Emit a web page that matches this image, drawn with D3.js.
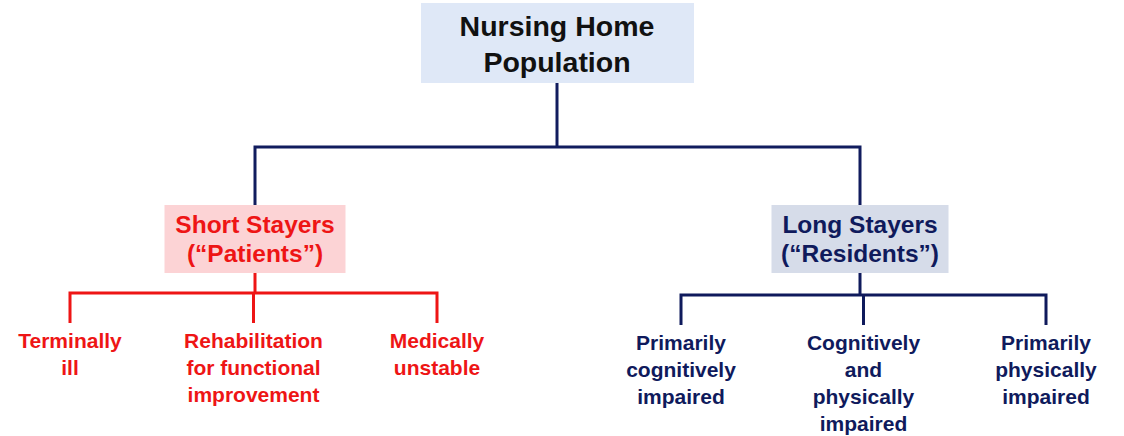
<!DOCTYPE html>
<html>
<head>
<meta charset="utf-8">
<script src="https://cdn.jsdelivr.net/npm/d3@7"></script>
<style>
  body { margin: 0; background: #fff; }
  svg { display: block; font-family: Arial, "Liberation Sans", sans-serif; font-weight: bold; }
</style>
</head>
<body>
<svg id="chart"></svg>
<script>
// chart content
const rootLabel = ["Nursing Home", "Population"];
const branchLabels = [["Short Stayers", "(“Patients”)"], ["Long Stayers", "(“Residents”)"]];
const shortLeaves = [["Terminally", "ill"], ["Rehabilitation", "for functional", "improvement"], ["Medically", "unstable"]];
const longLeaves = [["Primarily", "cognitively", "impaired"], ["Cognitively", "and", "physically", "impaired"], ["Primarily", "physically", "impaired"]];

const width = 1124, height = 436;
const svg = d3.select("#chart").attr("width", width).attr("height", height);

const navy = "#111c5e", red = "#ee1515";
const branchColor = [red, "#0f1a5c"];
const branchFill = ["#fcd3d5", "#d6dce9"];

// horizontal positions
const xBranch = d3.scalePoint().domain(d3.range(branchLabels.length)).range([255, 860]);
const xShort = d3.scalePoint().domain(d3.range(shortLeaves.length)).range([70, 437]);
const xLong = d3.scalePoint().domain(d3.range(longLeaves.length)).range([681, 1046]);
const leafScales = [xShort, xLong];
const leafSets = [shortLeaves, longLeaves];
const rootX = 557;

// root box
svg.append("rect")
  .attr("x", 421).attr("y", 3).attr("width", 273).attr("height", 80)
  .attr("fill", "#dfe8f7");
svg.append("g").selectAll("text").data(rootLabel).join("text")
  .attr("x", rootX).attr("y", (d, i) => 36 + i * 36)
  .attr("text-anchor", "middle").attr("font-size", 28.5)
  .attr("fill", "#111").text(d => d);

// root connectors
const line = d3.line();
svg.append("path")
  .attr("d", line([[rootX, 83], [rootX, 147]]))
  .attr("stroke", navy).attr("stroke-width", 3).attr("fill", "none");
svg.append("path")
  .attr("d", line([[xBranch(0), 205], [xBranch(0), 147], [xBranch(1), 147], [xBranch(1), 205]]))
  .attr("stroke", navy).attr("stroke-width", 3).attr("fill", "none");

branchLabels.forEach((lab, b) => {
  const cx = xBranch(b);
  const g = svg.append("g");
  const bw = b === 0 ? 181 : 177;
  g.append("rect")
    .attr("x", cx - bw / 2).attr("y", 205).attr("width", bw).attr("height", 68)
    .attr("fill", branchFill[b]);
  g.selectAll("text").data(lab).join("text")
    .attr("x", cx).attr("y", (d, i) => 233 + i * 29)
    .attr("text-anchor", "middle").attr("font-size", 24.5)
    .attr("fill", branchColor[b]).text(d => d);

  const xs = leafScales[b];
  const leaves = leafSets[b];
  const hy = b === 0 ? 293 : 295;
  g.append("path")
    .attr("d", line([[cx, 273], [cx, hy]]))
    .attr("stroke", branchColor[b]).attr("stroke-width", 3).attr("fill", "none");
  g.append("path")
    .attr("d", line([[xs(0), hy + 30], [xs(0), hy], [xs(leaves.length - 1), hy], [xs(leaves.length - 1), hy + 30]]))
    .attr("stroke", branchColor[b]).attr("stroke-width", 3).attr("fill", "none");
  g.append("path")
    .attr("d", line([[xs(1), hy], [xs(1), hy + 30]]))
    .attr("stroke", branchColor[b]).attr("stroke-width", 3).attr("fill", "none");

  leaves.forEach((leaf, j) => {
    g.append("g").selectAll("text").data(leaf).join("text")
      .attr("x", xs(j)).attr("y", (d, i) => (b === 0 ? 348 : 350) + i * 27)
      .attr("text-anchor", "middle").attr("font-size", 21)
      .attr("fill", branchColor[b]).text(d => d);
  });
});
</script>
</body>
</html>
